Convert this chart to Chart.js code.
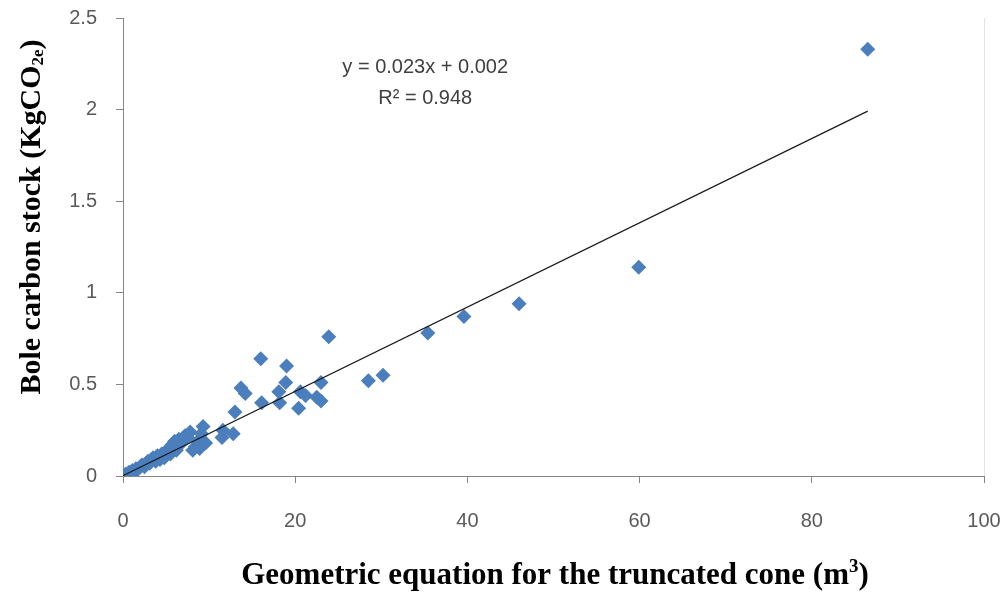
<!DOCTYPE html>
<html>
<head>
<meta charset="utf-8">
<script src="https://cdn.jsdelivr.net/npm/chart.js@4"></script>
<style>
  html, body { margin: 0; padding: 0; background: #fff; }
  #wrap { width: 1008px; height: 592px; position: relative; }
</style>
</head>
<body>
<div id="wrap"><canvas id="myChart"></canvas></div>
<script>
// volume from truncated cone equation (m3)
const coneVolume = [
  0.1, 0.3, 0.5, 0.7, 0.9, 1.1, 1.3, 1.5, 1.8, 2.0,
  2.2, 2.5, 2.7, 2.9, 3.1, 3.3, 3.5, 3.8, 4.0, 4.3,
  4.5, 4.8, 5.0, 5.3, 5.5, 5.7, 6.0, 6.2, 6.5, 6.8,
  7.2, 7.5, 7.8, 8.1, 8.4, 8.7, 8.9, 9.1, 9.3, 9.6,
  11.5, 11.6, 12.8, 13.0, 13.7, 14.2, 16.0, 16.1, 18.1, 18.2,
  18.9, 19.0, 20.4, 20.6, 21.2, 22.5, 23.0, 23.0, 23.9, 28.5,
  30.2, 35.4, 39.6, 46.0, 59.9, 86.5
];
// bole carbon stock (KgCO2e)
const carbonStock = [
  0.00, 0.01, 0.01, 0.02, 0.02, 0.03, 0.02, 0.04, 0.04, 0.05,
  0.06, 0.05, 0.07, 0.08, 0.07, 0.09, 0.10, 0.08, 0.11, 0.09,
  0.12, 0.10, 0.13, 0.15, 0.12, 0.17, 0.19, 0.14, 0.20, 0.18,
  0.22, 0.21, 0.24, 0.14, 0.16, 0.19, 0.15, 0.23, 0.27, 0.18,
  0.21, 0.25, 0.23, 0.35, 0.48, 0.45, 0.64, 0.40, 0.46, 0.40,
  0.51, 0.60, 0.37, 0.46, 0.44, 0.43, 0.51, 0.41, 0.76, 0.52,
  0.55, 0.78, 0.87, 0.94, 1.14, 2.33
];
const xTicks = [0, 20, 40, 60, 80, 100];
const yTicks = [0, 0.5, 1, 1.5, 2, 2.5];

// linear trendline from the fitted equation
const slope = 0.023;
const intercept = 0.002;
const rSquared = 0.948;

const points = coneVolume.map((v, i) => ({ x: v, y: carbonStock[i] }));
const xMax = Math.max(...coneVolume);
const trend = [
  { x: 0, y: intercept },
  { x: xMax, y: slope * xMax + intercept },
];

const axisGray = "#868686";
const labelGray = "#595959";
const serif = "'Liberation Serif', 'Times New Roman', serif";
const sans = "'Liberation Sans', Arial, sans-serif";

// draws text pieces in a row, centred on (cx, cy); shift moves a piece down
function drawRich(c, parts, cx, cy) {
  let total = 0;
  parts.forEach((p) => { c.font = p.font; p.w = c.measureText(p.text).width; total += p.w; });
  let x = cx - total / 2;
  c.textAlign = "left";
  c.textBaseline = "middle";
  parts.forEach((p) => {
    c.font = p.font;
    c.fillText(p.text, x, cy + (p.shift || 0));
    x += p.w;
  });
}

const extras = {
  id: "extras",
  afterDraw(chart) {
    const c = chart.ctx;
    const xs = chart.scales.x, ys = chart.scales.y;
    const area = chart.chartArea;
    c.save();

    // trendline equation
    c.fillStyle = "#404040";
    c.font = "20px " + sans;
    c.textAlign = "center";
    c.textBaseline = "middle";
    c.fillText("y = " + slope.toFixed(3) + "x + " + intercept.toFixed(3), xs.getPixelForValue(35.1), ys.getPixelForValue(2.23));
    c.fillText("R\u00B2 = " + rSquared.toFixed(3), xs.getPixelForValue(35.1), ys.getPixelForValue(2.062));

    // faint right border of the plot
    c.strokeStyle = "#e4e4e4";
    c.lineWidth = 1;
    c.beginPath();
    c.moveTo(area.right + 0.5, area.top);
    c.lineTo(area.right + 0.5, area.bottom);
    c.stroke();

    // axis titles
    c.fillStyle = "#000";
    const big = "bold 31px " + serif;
    const small = "bold 19px " + serif;
    drawRich(c, [
      { text: "Geometric equation for the truncated cone (m", font: big },
      { text: "3", font: small, shift: -9 },
      { text: ")", font: big },
    ], 555, 576);

    c.translate(32, 217);
    c.rotate(-Math.PI / 2);
    drawRich(c, [
      { text: "Bole carbon stock (KgCO", font: "bold 30px " + serif },
      { text: "2e", font: "bold 17px " + serif, shift: 7 },
      { text: ")", font: "bold 30px " + serif },
    ], 0, 0);
    c.restore();
  },
};

const ctx = document.getElementById("myChart").getContext("2d");

const scatterChart = new Chart(ctx, {
  type: "scatter",
  data: {
    datasets: [
      {
        type: "line",
        data: trend,
        borderColor: "#1a1a1a",
        borderWidth: 1.2,
        pointRadius: 0,
        fill: false,
        order: 0,
      },
      {
        data: points,
        pointStyle: "rectRot",
        pointRadius: 7.5,
        pointBorderWidth: 0,
        backgroundColor: "rgb(74, 126, 188)",
        borderColor: "rgb(74, 126, 188)",
        order: 1,
      },
    ],
  },
  options: {
    responsive: true,
    maintainAspectRatio: false,
    animation: false,
    layout: { padding: { top: 18, right: 24, left: 0, bottom: 0 } },
    plugins: {
      legend: { display: false },
      tooltip: { enabled: false },
    },
    scales: {
      x: {
        min: 0,
        max: 100,
        afterBuildTicks: (axis) => { axis.ticks = xTicks.map((v) => ({ value: v })); },
        afterFit: (axis) => {
          axis.height = 116;
          axis.paddingLeft = 0;
          axis.paddingRight = 0;
        },
        grid: { drawOnChartArea: false, color: axisGray, tickLength: 7 },
        border: { color: axisGray },
        ticks: {
          color: labelGray,
          padding: 26,
          font: { family: sans, size: 20 },
        },
      },
      y: {
        min: 0,
        max: 2.5,
        afterBuildTicks: (axis) => { axis.ticks = yTicks.map((v) => ({ value: v })); },
        afterFit: (axis) => {
          axis.width = 123;
          axis.paddingTop = 0;
          axis.paddingBottom = 0;
        },
        grid: { drawOnChartArea: false, color: axisGray, tickLength: 7 },
        border: { color: axisGray },
        ticks: {
          color: labelGray,
          padding: 19,
          font: { family: sans, size: 20 },
          callback: (v) => String(v),
        },
      },
    },
  },
  plugins: [extras],
});
</script>
</body>
</html>
